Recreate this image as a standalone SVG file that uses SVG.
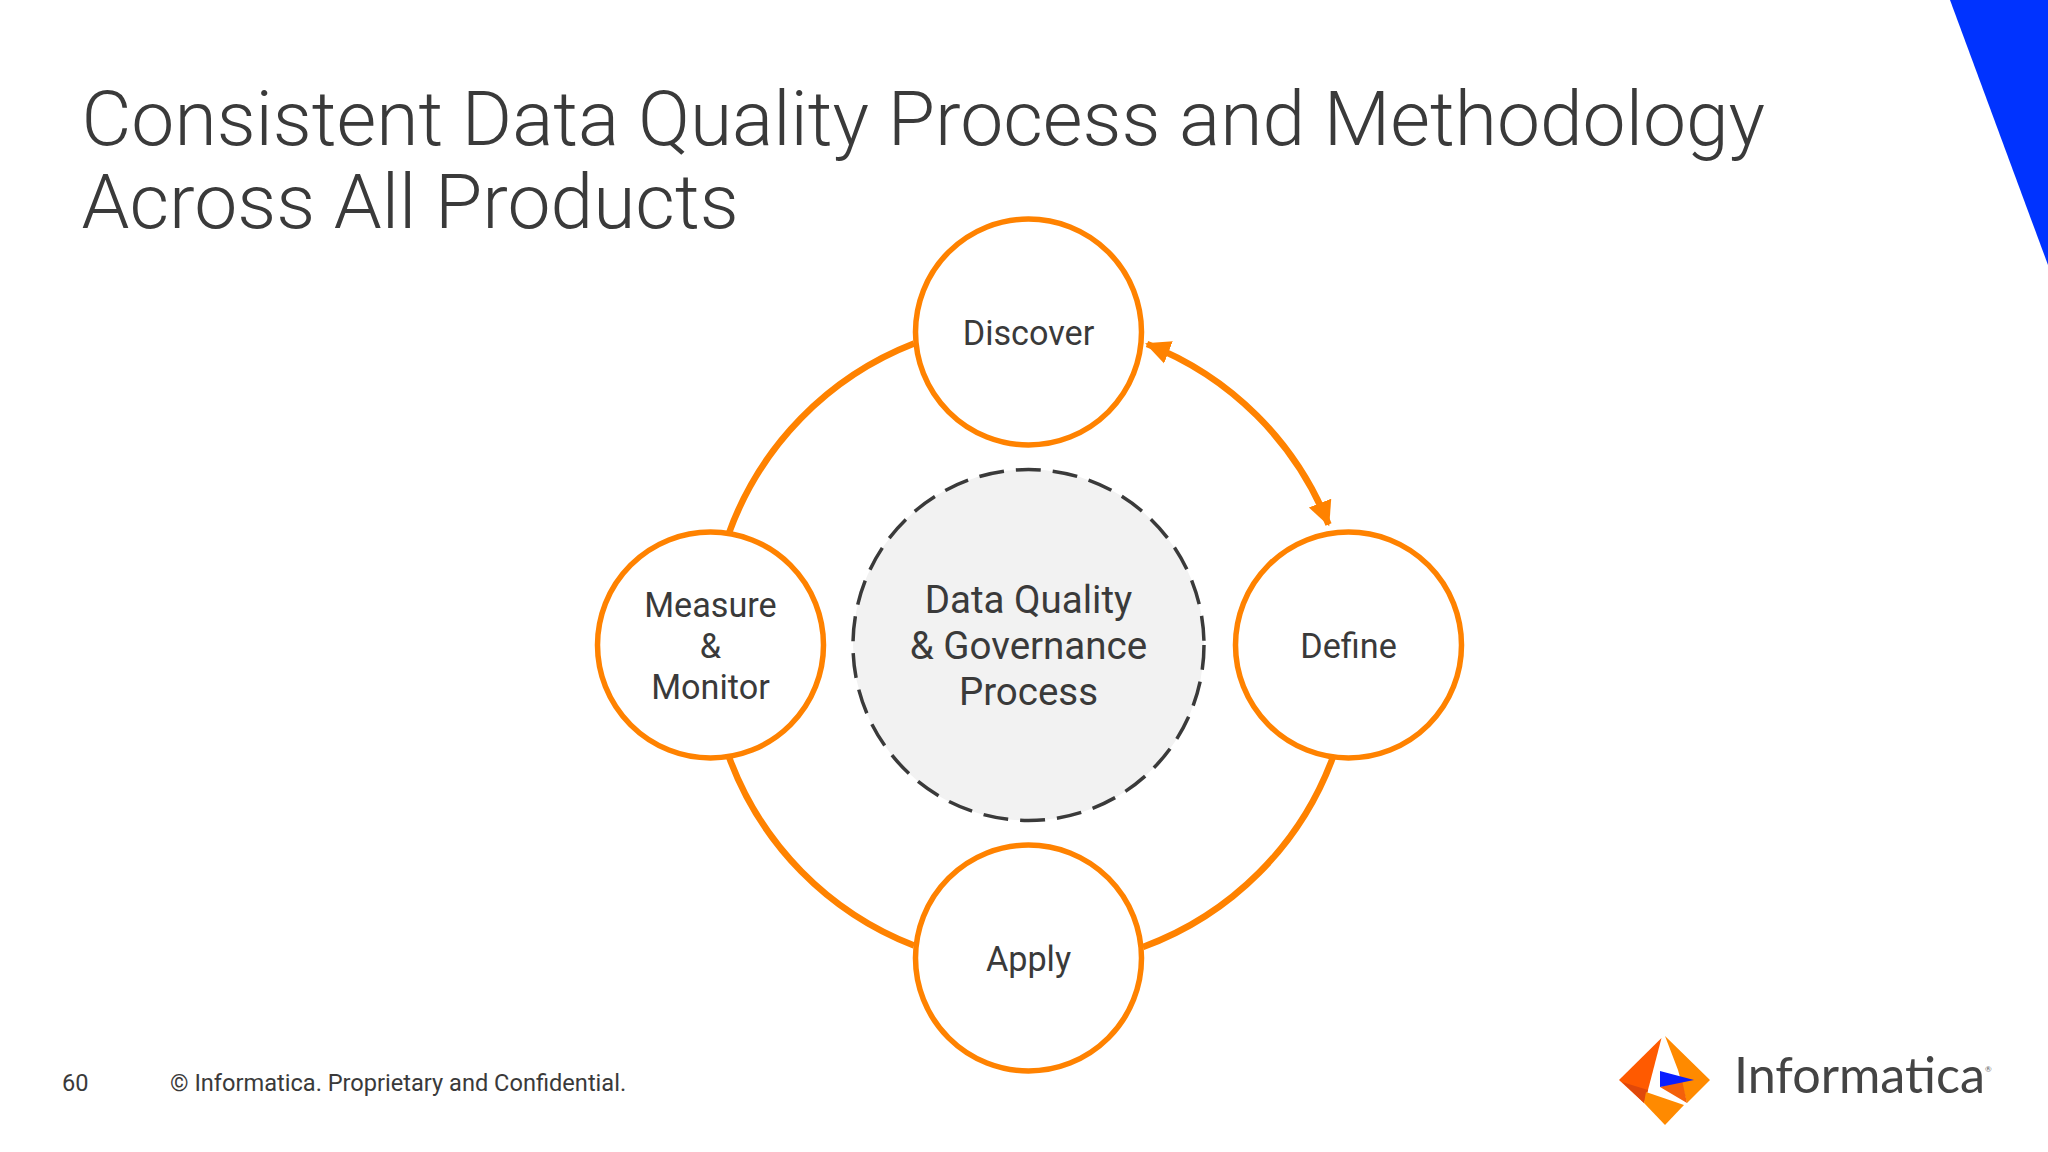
<svg xmlns="http://www.w3.org/2000/svg" width="2048" height="1152" viewBox="0 0 2048 1152">
<style>
.t{font-family:Roboto,"Liberation Sans",sans-serif;fill:#3a3a3a}
.title{font-weight:300;font-size:76.800px}
.lab{font-size:34.200px;text-anchor:middle}
.cen{font-size:38.500px;text-anchor:middle}
.foot{font-size:23.600px}
.n{fill:#fff;stroke:#ff8200;stroke-width:5.500}
.c{fill:none;stroke:#ff8200;stroke-width:6.500}
</style>
<defs>
<marker id="ah" viewBox="0 0 26 26" refX="23" refY="13" markerWidth="26" markerHeight="26" markerUnits="userSpaceOnUse" orient="auto-start-reverse"><path d="M0 1L25 13L0 25Z" fill="#ff8200"/></marker>
</defs>
<rect width="2048" height="1152" fill="#fff"/>
<polygon points="1950,0 2048,0 2048,265" fill="#0033ff"/>
<text class="t title" x="81.500" y="144.500">Consistent Data Quality Process and Methodology</text>
<text class="t title" x="81.500" y="227.500">Across All Products</text>
<g id="connectors">
<path class="c" d="M729 533A320 320 0 0 1 914 343.500"/>
<path class="c" d="M729 757A320 320 0 0 0 914 945.500"/>
<path class="c" d="M1143 947A320 320 0 0 0 1333 757"/>
<path class="c" d="M1147 344A320 320 0 0 1 1328.500 524.500" marker-start="url(#ah)" marker-end="url(#ah)"/>
</g>
<g id="center"><circle cx="1028.500" cy="645" r="175.500" fill="#f2f2f2" stroke="#3a3a3a" stroke-width="3.500" stroke-dasharray="25 12"/>
<text class="t cen" x="1028.500" y="613">Data Quality</text><text class="t cen" x="1028.500" y="659">&amp; Governance</text><text class="t cen" x="1028.500" y="705">Process</text></g>
<g id="discover"><circle class="n" cx="1028.500" cy="332" r="113"/><text class="t lab" x="1028.500" y="344.500">Discover</text></g>
<g id="define"><circle class="n" cx="1348.500" cy="645" r="113"/><text class="t lab" x="1348.500" y="657.500">Define</text></g>
<g id="apply"><circle class="n" cx="1028.500" cy="958" r="113"/><text class="t lab" x="1028.500" y="970.500">Apply</text></g>
<g id="measure"><circle class="n" cx="710.500" cy="645" r="113"/><text class="t lab" x="710.500" y="616.500">Measure</text><text class="t lab" x="710.500" y="657.500">&amp;</text><text class="t lab" x="710.500" y="698.500">Monitor</text></g>
<text class="t foot" x="62" y="1090.500">60</text>
<text class="t foot" x="170" y="1090.500">© Informatica. Proprietary and Confidential.</text>
<g id="logo">
<polygon points="1619,1080 1661.500,1038 1648,1090 1644,1103" fill="#ff5a00"/>
<polygon points="1622,1082 1648,1090 1644,1103" fill="#e0480a"/>
<polygon points="1665,1036 1710,1080 1687,1103 1678,1070" fill="#ff8a00"/>
<polygon points="1660,1087 1682,1080 1687,1103" fill="#f4600a"/>
<polygon points="1646,1092 1684,1105 1665,1125 1644,1103" fill="#ff8a00"/>
<polygon points="1660,1071 1694,1080 1660,1087" fill="#0a1eff"/>
<text x="1734" y="1092.500" font-family="Lato,'Open Sans',sans-serif" font-weight="400" font-size="51" fill="#444" textLength="251" lengthAdjust="spacingAndGlyphs">Informatica</text>
<text x="1985" y="1072" font-family="Lato,sans-serif" font-size="8" fill="#666">®</text>
</g>
</svg>
